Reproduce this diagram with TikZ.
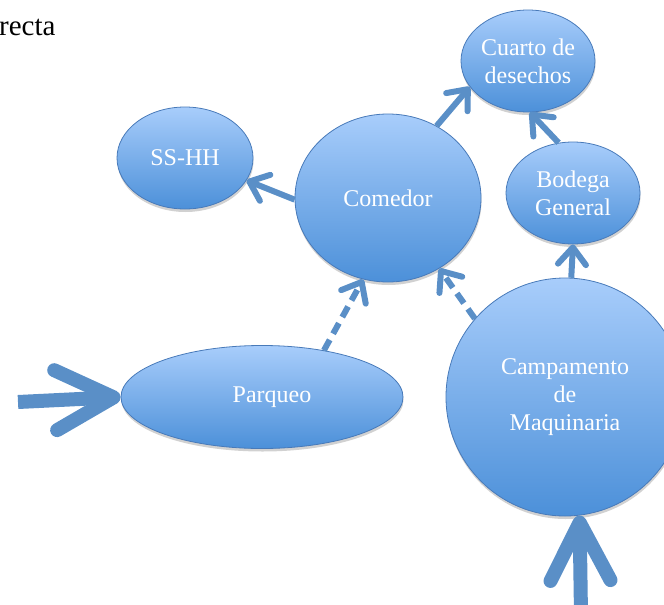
\documentclass[tikz,border=0pt]{standalone}
\usepackage{fontspec}
\setmainfont{Liberation Serif}
\usetikzlibrary{shapes.geometric,arrows.meta,shadows}
\definecolor{arrowblue}{RGB}{90,143,199}
\definecolor{bubtop}{RGB}{168,205,251}
\definecolor{bubbot}{RGB}{76,144,217}
\definecolor{bubline}{RGB}{72,122,185}
\begin{document}
\begin{tikzpicture}[x=1pt,y=-1pt,
  bub/.style={ellipse, draw=bubline, line width=0.8pt, top color=bubtop, bottom color=bubbot,
    inner sep=0pt, drop shadow={shadow xshift=0.5pt, shadow yshift=-3pt, opacity=0.18, fill=black}},
  txt/.style={text=white, font=\fontsize{24}{28}\selectfont, align=center},
  conn/.style={draw=arrowblue, line width=6pt, -{Straight Barb[length=17pt,width=28pt,round]}},
  dashconn/.style={conn, dash pattern=on 12pt off 7pt},
  bigconn/.style={draw=arrowblue, line width=14pt, -{Straight Barb[length=58pt,width=60pt,round]}},
]
\useasboundingbox (0,0) rectangle (664,605);
\clip (0,0) rectangle (664,605);

\node[anchor=base west, inner sep=0pt, font=\fontsize{29}{34}\selectfont] (title) at (-1,35) {recta};

\node[bub, minimum width=134pt, minimum height=102pt,
  label={[txt]center:{Cuarto de\\desechos}}] (cua) at (528,61) {};
\node[bub, minimum width=136pt, minimum height=102pt,
  label={[txt]center:SS-HH}] (ss) at (185,158) {};
\node[bub, minimum width=186pt, minimum height=168pt,
  label={[txt]center:Comedor}] (com) at (388,198) {};
\node[bub, minimum width=134pt, minimum height=102pt,
  label={[txt]center:{Bodega\\General}}] (bod) at (573,193) {};
\node[bub, minimum width=282pt, minimum height=103pt,
  label={[txt,xshift=10pt]center:Parqueo}] (park) at (262,397) {};
\node[bub, circle, minimum size=238pt,
  label={[txt]center:{Campamento\\de\\Maquinaria}}] (camp) at (565,397) {};

\coordinate (inL) at (18,402);
\coordinate (inB) at (581,615);

\draw[conn] (com.181) -- (ss.340);
\draw[conn] (com.56) -- (cua.204);
\draw[conn] (bod.106) -- (cua.272);
\draw[conn] (camp.87) -- (bod.270);
\draw[dashconn] (camp.139) -- (com.306);
\draw[dashconn] (park.37) -- (com.253);
\draw[bigconn] (inL) -- (park.west);
\draw[bigconn] (inB) -- (camp.-83);
\end{tikzpicture}
\end{document}
